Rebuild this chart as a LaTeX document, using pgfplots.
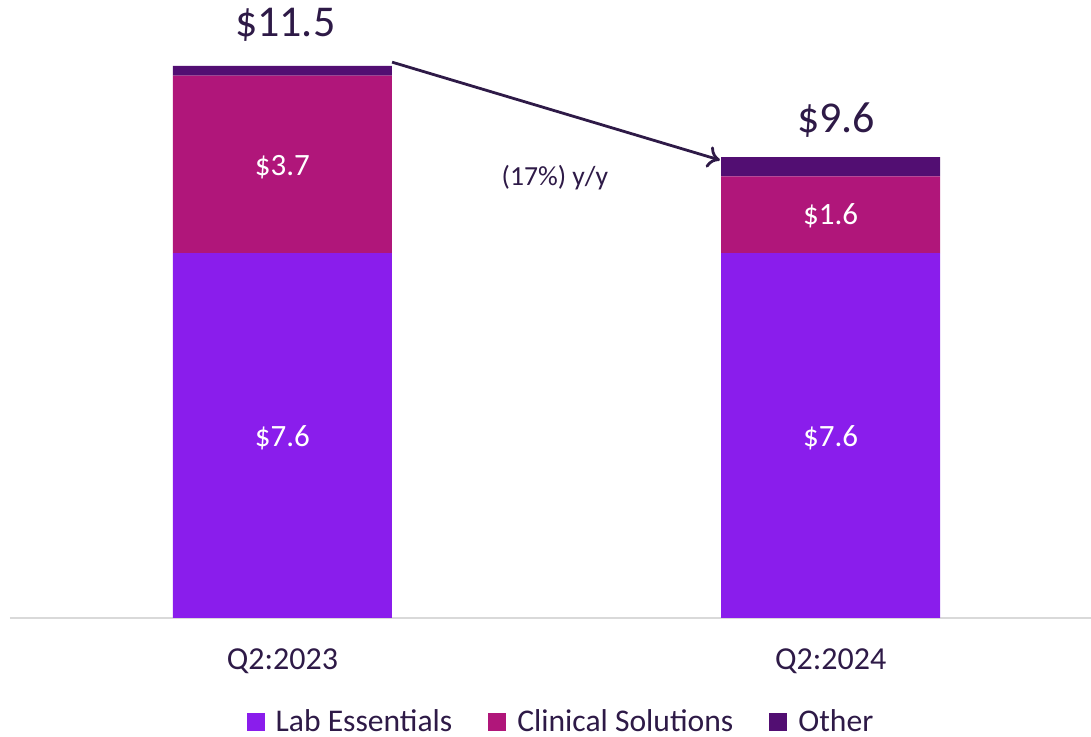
\documentclass[border=0pt]{standalone}
\usepackage{fontspec}
\setmainfont{Carlito}
\usepackage{pgfplots}
\pgfplotsset{compat=1.18}
\usetikzlibrary{arrows.meta}
\definecolor{labc}{RGB}{138,29,236}
\definecolor{clinc}{RGB}{176,22,122}
\definecolor{othc}{RGB}{82,14,114}
\definecolor{txtc}{RGB}{46,26,71}
\definecolor{axc}{RGB}{217,217,217}
\begin{document}
\begin{tikzpicture}
\path[use as bounding box] (-5pt,-59.5pt) rectangle (540.5pt,309pt);
\begin{axis}[
    at={(0,0)}, anchor=south west,
    scale only axis, width=540.5pt, height=309pt,
    ybar stacked, bar width=109.5pt,
    xmin=-0.497, xmax=1.475, ymin=0, ymax=12.875,
    clip=false,
    axis y line=none, axis x line*=bottom,
    x axis line style={draw=axc, line width=1pt, -},
    xtick=data, xticklabels={Q2:2023, Q2:2024},
    major tick length=0pt,
    xticklabel style={font=\fontsize{16}{19}\selectfont, text=txtc, yshift=-12pt},
    legend style={at={(0.5106,-0.168)}, anchor=center, draw=none,
        legend columns=-1, font=\fontsize{15.8}{19}\selectfont, text=txtc,
        /tikz/every odd column/.append style={column sep=3.5pt},
        /tikz/every even column/.append style={column sep=16pt}},
    legend image code/.code={\fill[#1] (0pt,-4.5pt) rectangle (9pt,4.5pt);},
]
\addplot[fill=labc, draw=none] coordinates {(0,7.6) (1,7.6)};
\addplot[fill=clinc, draw=none] coordinates {(0,3.7) (1,1.6)};
\addplot[fill=othc, draw=none] coordinates {(0,0.2) (1,0.4)};
\legend{Lab Essentials, Clinical Solutions, Other}
\coordinate (l1) at (axis cs:0,3.75);
\coordinate (l2) at (axis cs:1,3.75);
\coordinate (c1) at (axis cs:0,9.4);
\coordinate (c2) at (axis cs:1,8.38);
\node[text=txtc, font=\fontsize{22}{26}\selectfont] at (axis cs:0.005,12.35) {\$11.5};
\node[text=txtc, font=\fontsize{22}{26}\selectfont] at (axis cs:1.01,10.38) {\$9.6};
\node[text=txtc, font=\fontsize{13.8}{16}\selectfont] at (axis cs:0.497,9.17) {(17\%) y/y};
\draw[txtc, line width=1.4pt, -{To[length=6pt,width=11pt]}] (axis cs:0.2,11.58) -- (axis cs:0.798,9.54);
\end{axis}
\node[text=white, font=\fontsize{15.5}{18}\selectfont] at (l1) {\$7.6};
\node[text=white, font=\fontsize{15.5}{18}\selectfont] at (l2) {\$7.6};
\node[text=white, font=\fontsize{15.5}{18}\selectfont] at (c1) {\$3.7};
\node[text=white, font=\fontsize{15.5}{18}\selectfont] at (c2) {\$1.6};
\end{tikzpicture}
\end{document}
